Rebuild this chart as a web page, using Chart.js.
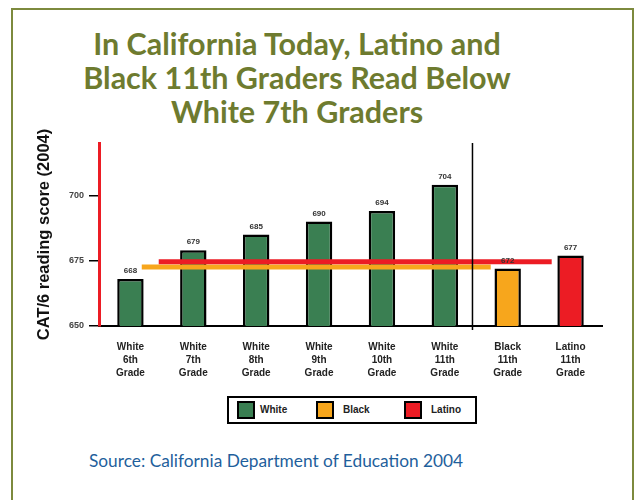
<!DOCTYPE html>
<html>
<head>
<meta charset="utf-8">
<script src="https://cdn.jsdelivr.net/npm/chart.js@4.4.1/dist/chart.umd.min.js"></script>
<style>
  body { margin: 0; background: #fff; }
  #wrap { position: relative; width: 638px; height: 500px; overflow: hidden; font-family: "Liberation Sans", Arial, sans-serif; }
  #frame { position: absolute; left: 11px; top: 8px; width: 619px; height: 520px; border: 2px solid #7d8a3e; }
  #title { position: absolute; left: 17px; top: 26px; width: 560px; text-align: center;
           font-family: Lato, sans-serif; font-weight: bold; font-size: 30.5px; line-height: 34px; color: #6e7b2f; }
  #chartbox { position: absolute; left: 0; top: 120px; width: 638px; height: 270px; }
  #legend { position: absolute; left: 227px; top: 396px; width: 246px; height: 24px; border: 2px solid #000;
            font-weight: bold; font-size: 10px; color: #222; }
  #legend .sw { position: absolute; top: 3px; width: 14px; height: 14px; border: 2px solid #000; }
  #legend .txt { position: absolute; top: 6px; }
  #source { position: absolute; left: 89px; top: 450px; font-family: Lato, sans-serif; font-size: 17.3px; color: #1f5f9c; }
</style>
</head>
<body>
<div id="wrap">
  <div id="frame"></div>
  <div id="title">In California Today, Latino and<br>Black 11th Graders Read Below<br>White 7th Graders</div>
  <div id="chartbox"><canvas id="chart"></canvas></div>
  <div id="legend"></div>
  <div id="source">Source: California Department of Education 2004</div>
</div>
<script>
// categories (three line labels)
var categories = [
  ['White', '6th', 'Grade'],
  ['White', '7th', 'Grade'],
  ['White', '8th', 'Grade'],
  ['White', '9th', 'Grade'],
  ['White', '10th', 'Grade'],
  ['White', '11th', 'Grade'],
  ['Black', '11th', 'Grade'],
  ['Latino', '11th', 'Grade']
];
var scores = [668, 679, 685, 690, 694, 704, 672, 677];
var groups = ['White', 'White', 'White', 'White', 'White', 'White', 'Black', 'Latino'];
var legendNames = ['White', 'Black', 'Latino'];
var groupColors = { White: '#3a7f52', Black: '#f7a61c', Latino: '#ec1c24' };
var yTicks = [650, 675, 700];

// reference lines (category index range, score)
var latinoLine = [{ x: 0.45, y: 674.6 }, { x: 6.7, y: 674.6 }];
var blackLine = [{ x: 0.18, y: 672.6 }, { x: 5.73, y: 672.6 }];
var divider = [{ x: 5.44, y: 720 }, { x: 5.44, y: 648.5 }];

var barColors = groups.map(function (g) { return groupColors[g]; });

// legend
var legendEl = document.getElementById('legend');
var swLeft = [8, 87, 175];
var txtLeft = [31, 114, 202];
legendNames.forEach(function (name, i) {
  var sw = document.createElement('div');
  sw.className = 'sw';
  sw.style.left = swLeft[i] + 'px';
  sw.style.background = groupColors[name];
  legendEl.appendChild(sw);
  var t = document.createElement('span');
  t.className = 'txt';
  t.style.left = txtLeft[i] + 'px';
  t.textContent = name;
  legendEl.appendChild(t);
});

// value labels above the bars
var barLabels = {
  id: 'barLabels',
  afterDatasetsDraw: function (chart) {
    var ctx = chart.ctx;
    var meta = chart.getDatasetMeta(3);
    ctx.save();
    ctx.font = 'bold 8px "Liberation Sans", Arial';
    ctx.fillStyle = '#333';
    ctx.textAlign = 'center';
    ctx.textBaseline = 'middle';
    meta.data.forEach(function (bar, i) {
      ctx.fillText(String(scores[i]), bar.x, bar.y - 8);
    });
    ctx.restore();
  }
};

var ctx = document.getElementById('chart').getContext('2d');
var myChart = new Chart(ctx, {
  type: 'bar',
  data: {
    labels: categories,
    datasets: [
      {
        type: 'line', label: 'divider', data: divider, xAxisID: 'xl',
        borderColor: '#000', borderWidth: 1.5, pointRadius: 0, clip: false, order: 0
      },
      {
        type: 'line', label: 'Black 11th', data: blackLine, xAxisID: 'xl',
        borderColor: '#f7a61c', borderWidth: 5, pointRadius: 0, borderCapStyle: 'butt', order: 2
      },
      {
        type: 'line', label: 'Latino 11th', data: latinoLine, xAxisID: 'xl',
        borderColor: '#ec1c24', borderWidth: 5, pointRadius: 0, borderCapStyle: 'butt', order: 1
      },
      {
        type: 'bar', label: 'Score', data: scores, xAxisID: 'x',
        backgroundColor: barColors, borderColor: '#000', borderWidth: 2.5,
        barPercentage: 0.42, categoryPercentage: 1, grouped: false, order: 5
      }
    ]
  },
  options: {
    responsive: true,
    maintainAspectRatio: false,
    animation: false,
    layout: { padding: { top: 23, right: 36, bottom: 0, left: 0 } },
    plugins: {
      legend: { display: false },
      tooltip: { enabled: false }
    },
    scales: {
      x: {
        type: 'category',
        offset: true,
        afterFit: function (s) { s.height = 64; },
        grid: { display: false },
        border: { display: true, color: '#000', width: 2 },
        ticks: {
          color: '#222', padding: 7,
          font: { family: '"Liberation Sans", Arial', size: 10, weight: 'bold', lineHeight: 1.3 },
          maxRotation: 0, autoSkip: false
        }
      },
      xl: {
        type: 'linear', display: false, offset: false, min: -0.5, max: 7.5
      },
      y: {
        min: 650, max: 720,
        afterFit: function (s) { s.width = 99; },
        afterBuildTicks: function (s) { s.ticks = yTicks.map(function (v) { return { value: v }; }); },
        grid: { drawOnChartArea: false, drawTicks: true, tickLength: 10, color: '#000', lineWidth: 1.5 },
        border: { display: true, color: '#ec1c24', width: 3 },
        ticks: {
          color: '#444', padding: 5,
          font: { family: '"Liberation Sans", Arial', size: 9, weight: 'bold' }
        },
        title: {
          display: true, text: 'CAT/6 reading score (2004)', color: '#111',
          font: { family: '"Liberation Sans", Arial', size: 16.5, weight: 'bold' },
          padding: { top: 35, bottom: 0 }
        }
      }
    }
  },
  plugins: [barLabels]
});
</script>
</body>
</html>
